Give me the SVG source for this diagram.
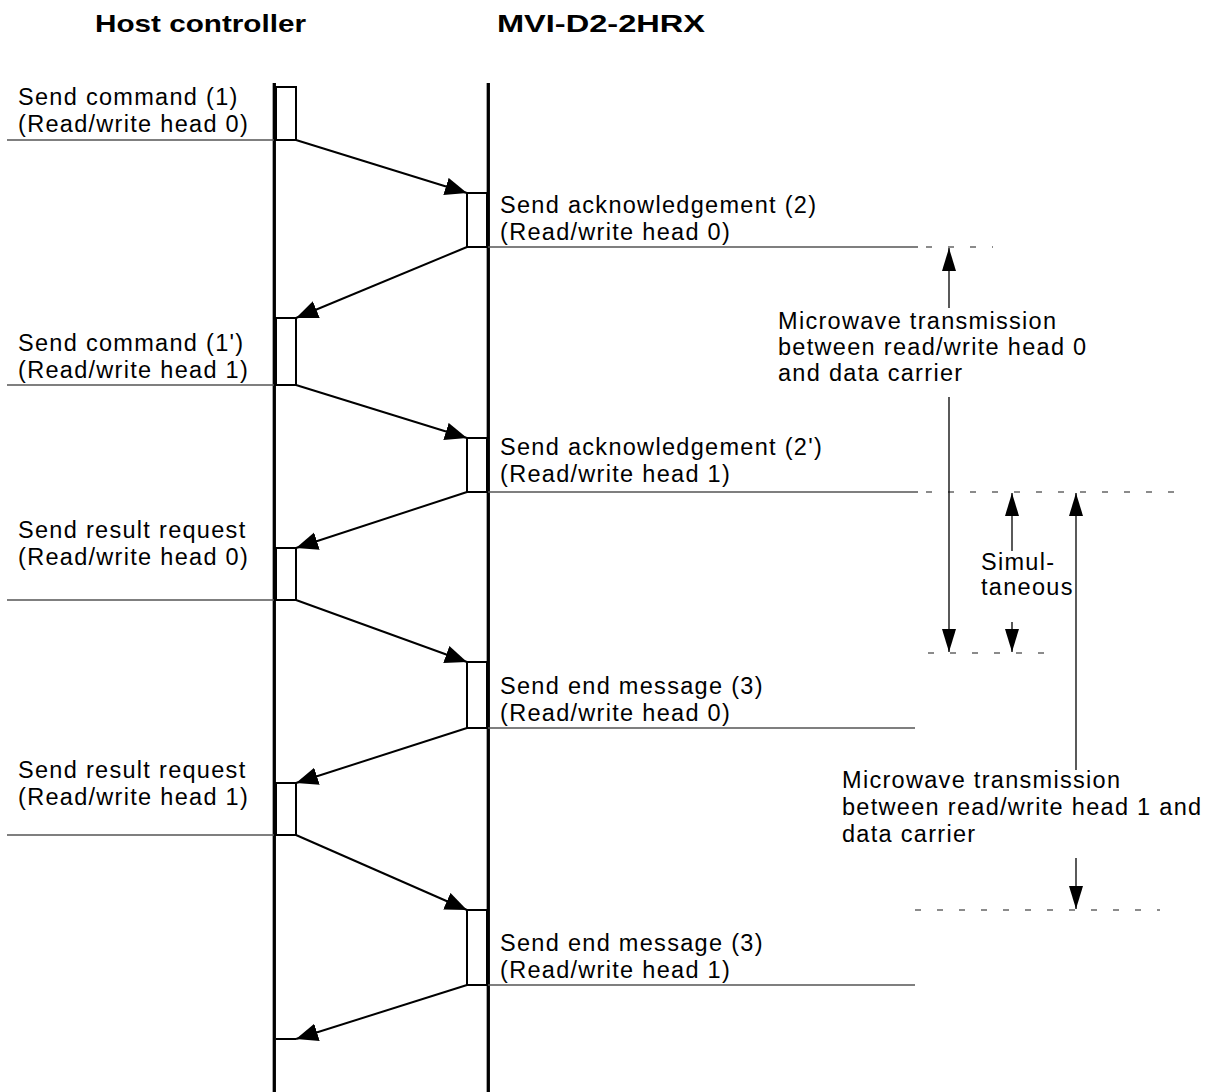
<svg xmlns="http://www.w3.org/2000/svg" width="1209" height="1092" viewBox="0 0 1209 1092">
<style>
.lifeline{stroke:#000;stroke-width:3.3}
.act{fill:#fff;stroke:#000;stroke-width:2}
.msg{stroke:#000;stroke-width:2;fill:none;marker-end:url(#mh)}
.rule{stroke:#555;stroke-width:1.5}
.dash{stroke:#666;stroke-width:1.5;stroke-dasharray:6 16}
.dim{stroke:#000;stroke-width:1.3;marker-end:url(#dh)}
text{font-family:"Liberation Sans",Arial,sans-serif;font-size:23.5px;letter-spacing:1.3px;fill:#000}
.hdr{font-weight:bold;font-size:24px;letter-spacing:0}
</style>
<defs>
<marker id="mh" markerUnits="userSpaceOnUse" markerWidth="24" markerHeight="20" refX="22" refY="9" orient="auto">
<path d="M0,0 L22,9 L0,18 Z" fill="#000"/>
</marker>
<marker id="dh" markerUnits="userSpaceOnUse" markerWidth="24" markerHeight="16" refX="23" refY="7" orient="auto">
<path d="M0,0 L23,7 L0,14 Z" fill="#000"/>
</marker>
</defs>

<g id="headers">
<text class="hdr" x="95" y="32" textLength="211" lengthAdjust="spacingAndGlyphs">Host controller</text>
<text class="hdr" x="497" y="32" textLength="208" lengthAdjust="spacingAndGlyphs">MVI-D2-2HRX</text>
</g>

<g id="host">
<line class="lifeline" x1="274.3" y1="83" x2="274.3" y2="1092"/>
</g>
<g id="device">
<line class="lifeline" x1="488.3" y1="83" x2="488.3" y2="1092"/>
</g>

<g id="rules">
<line class="rule" x1="7" y1="140" x2="274" y2="140"/>
<line class="rule" x1="7" y1="385" x2="274" y2="385"/>
<line class="rule" x1="7" y1="600" x2="274" y2="600"/>
<line class="rule" x1="7" y1="835" x2="274" y2="835"/>
<line class="rule" x1="488" y1="247" x2="918" y2="247"/>
<line class="rule" x1="488" y1="492" x2="918" y2="492"/>
<line class="rule" x1="488" y1="728" x2="915" y2="728"/>
<line class="rule" x1="488" y1="985" x2="915" y2="985"/>
<line class="dash" x1="926" y1="247" x2="993" y2="247"/>
<line class="dash" x1="926" y1="492" x2="1190" y2="492"/>
<line class="dash" x1="928" y1="653" x2="1045" y2="653"/>
<line class="dash" x1="915" y1="910" x2="1160" y2="910"/>
</g>

<g id="act-host-1"><rect class="act" x="276" y="87" width="20" height="53"/>
<text x="18" y="105">Send command (1)</text><text x="18" y="132">(Read/write head 0)</text></g>
<g id="act-dev-1"><rect class="act" x="467" y="193" width="20" height="54"/>
<text x="500" y="213">Send acknowledgement (2)</text><text x="500" y="240">(Read/write head 0)</text></g>
<g id="act-host-2"><rect class="act" x="276" y="318" width="20" height="67"/>
<text x="18" y="351">Send command (1')</text><text x="18" y="378">(Read/write head 1)</text></g>
<g id="act-dev-2"><rect class="act" x="467" y="438" width="20" height="54"/>
<text x="500" y="455">Send acknowledgement (2')</text><text x="500" y="482">(Read/write head 1)</text></g>
<g id="act-host-3"><rect class="act" x="276" y="548" width="20" height="52"/>
<text x="18" y="538">Send result request</text><text x="18" y="565">(Read/write head 0)</text></g>
<g id="act-dev-3"><rect class="act" x="467" y="662" width="20" height="66"/>
<text x="500" y="694">Send end message (3)</text><text x="500" y="721">(Read/write head 0)</text></g>
<g id="act-host-4"><rect class="act" x="276" y="783" width="20" height="52"/>
<text x="18" y="778">Send result request</text><text x="18" y="805">(Read/write head 1)</text></g>
<g id="act-dev-4"><rect class="act" x="467" y="910" width="20" height="75"/>
<text x="500" y="951">Send end message (3)</text><text x="500" y="978">(Read/write head 1)</text></g>
<g id="act-host-5"><line x1="276" y1="1039" x2="296" y2="1039" stroke="#000" stroke-width="2"/></g>

<g id="connectors">
<line class="msg" x1="296" y1="140" x2="467" y2="193"/>
<line class="msg" x1="467" y1="247" x2="296" y2="318"/>
<line class="msg" x1="296" y1="385" x2="467" y2="438"/>
<line class="msg" x1="467" y1="492" x2="296" y2="548"/>
<line class="msg" x1="296" y1="600" x2="467" y2="662"/>
<line class="msg" x1="467" y1="728" x2="296" y2="783"/>
<line class="msg" x1="296" y1="835" x2="467" y2="910"/>
<line class="msg" x1="467" y1="985" x2="296" y2="1039"/>
<line class="dim" x1="949" y1="308" x2="949" y2="248"/>
<line class="dim" x1="949" y1="397" x2="949" y2="652"/>
<line class="dim" x1="1012" y1="551" x2="1012" y2="493"/>
<line class="dim" x1="1012" y1="622" x2="1012" y2="652"/>
<line class="dim" x1="1076" y1="770" x2="1076" y2="493"/>
<line class="dim" x1="1076" y1="858" x2="1076" y2="909"/>
</g>

<g id="notes">
<text x="778" y="329">Microwave transmission</text>
<text x="778" y="355">between read/write head 0</text>
<text x="778" y="381">and data carrier</text>
<text x="981" y="570">Simul-</text>
<text x="981" y="595">taneous</text>
<text x="842" y="788">Microwave transmission</text>
<text x="842" y="815">between read/write head 1 and</text>
<text x="842" y="842">data carrier</text>
</g>
</svg>
